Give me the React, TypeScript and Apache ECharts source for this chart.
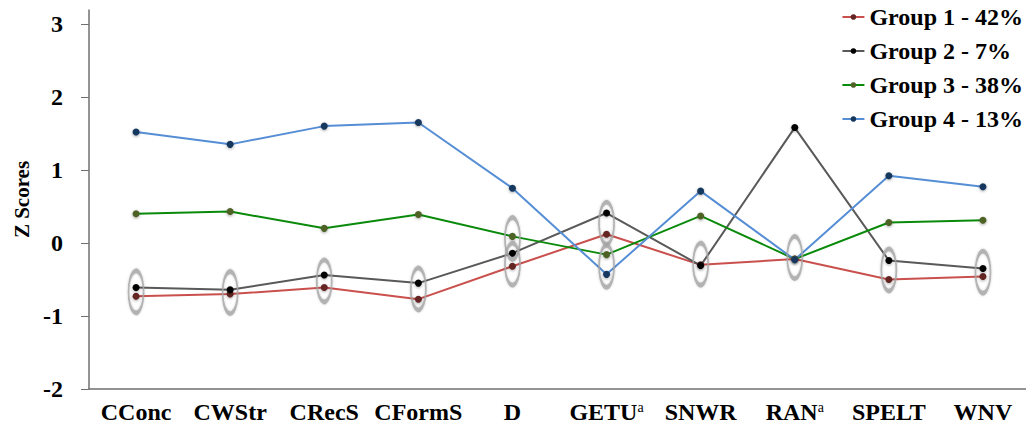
import React, { useEffect, useRef } from "react";
import * as echarts from "echarts";

const categories = ["CConc", "CWStr", "CRecS", "CFormS", "D", "GETU", "SNWR", "RAN", "SPELT", "WNV"];
const superscripted = ["GETU", "RAN"];
const group1 = [-0.73, -0.70, -0.61, -0.77, -0.32, 0.12, -0.30, -0.22, -0.50, -0.46];
const group2 = [-0.61, -0.64, -0.44, -0.55, -0.14, 0.41, -0.31, 1.58, -0.24, -0.35];
const group3 = [0.40, 0.43, 0.20, 0.39, 0.09, -0.16, 0.37, -0.22, 0.28, 0.31];
const group4 = [1.52, 1.35, 1.60, 1.65, 0.75, -0.43, 0.71, -0.23, 0.92, 0.77];
const seriesNames = ["Group 1 - 42%", "Group 2 - 7%", "Group 3 - 38%", "Group 4 - 13%"];
// highlighted points: [category index, center value]
const highlightCats = [0, 1, 2, 3, 4, 4, 5, 5, 6, 7, 8, 9];
const highlightVals = [-0.67, -0.68, -0.52, -0.63, 0.06, -0.29, 0.27, -0.32, -0.29, -0.20, -0.37, -0.40];
const yTicks = [-2, -1, 0, 1, 2, 3];
const yMin = -2;
const yMax = 3.19;

const FONT = "Liberation Serif";

export default function App() {
  const ref = useRef<HTMLDivElement>(null);
  useEffect(() => {
    if (!ref.current) return;
    const chart = echarts.init(ref.current, null, { renderer: "svg" });
    const lineColors = ["#C9504D", "#595959", "#0A8A0A", "#558ED5"];
    const dotColors = ["#632523", "#000000", "#4F6228", "#17375E"];
    const datasets = [group1, group2, group3, group4];
    const lineSeries = datasets.map((d, i) => ({
      type: "line",
      name: seriesNames[i],
      data: d,
      symbol: "circle",
      symbolSize: 7,
      lineStyle: { color: lineColors[i], width: 2 },
      itemStyle: {
        color: dotColors[i],
        shadowBlur: 3,
        shadowColor: "rgba(0,0,0,0.35)",
        shadowOffsetY: 1,
      },
      z: 2,
    }));
    chart.setOption({
      animation: false,
      grid: { left: 89, right: 4, top: 10, bottom: 47 },
      legend: {
        data: seriesNames,
        orient: "vertical",
        right: 6,
        top: 0,
        itemWidth: 22,
        itemHeight: 7,
        itemGap: 10,
        textStyle: { fontFamily: FONT, fontSize: 24, fontWeight: "bold", color: "#000" },
      },
      xAxis: {
        type: "category",
        data: categories,
        boundaryGap: true,
        axisLine: { onZero: false, lineStyle: { color: "#707070", width: 1.5 } },
        axisTick: { show: false },
        axisLabel: {
          interval: 0,
          margin: 11,
          formatter: (v: string) => (superscripted.includes(v) ? `{b|${v}}{sup|a}` : `{b|${v}}`),
          rich: {
            b: {
              fontFamily: FONT,
              fontSize: 24,
              fontWeight: "bold",
              color: "#000",
              lineHeight: 24,
              padding: [18, 0, 0, 0],
              verticalAlign: "bottom",
            },
            sup: {
              fontFamily: FONT,
              fontSize: 14,
              fontWeight: "normal",
              color: "#000",
              lineHeight: 12,
              verticalAlign: "top",
              padding: [0, 0, 0, 0],
            },
          },
        },
      },
      yAxis: {
        type: "value",
        min: yMin,
        max: yMax,
        name: "Z Scores",
        nameLocation: "middle",
        nameGap: 57,
        nameTextStyle: { fontFamily: FONT, fontSize: 21, fontWeight: "bold", color: "#000" },
        axisLine: { show: true, lineStyle: { color: "#707070", width: 1.5 } },
        axisTick: { show: true, length: 8, customValues: yTicks, lineStyle: { color: "#707070" } },
        splitLine: { show: false },
        axisLabel: {
          customValues: yTicks,
          margin: 26,
          fontFamily: FONT,
          fontSize: 24,
          fontWeight: "bold",
          color: "#000",
        },
      },
      series: [
        ...lineSeries,
        {
          type: "scatter",
          name: "highlight",
          data: highlightCats.map((c, i) => [c, highlightVals[i]]),
          symbol: "circle",
          symbolSize: [15, 42],
          silent: true,
          itemStyle: {
            color: "rgba(0,0,0,0)",
            borderColor: "#A6A6A6",
            borderWidth: 3,
            shadowBlur: 2,
            shadowColor: "rgba(0,0,0,0.25)",
          },
          z: 3,
        },
      ],
    });
    return () => chart.dispose();
  }, []);
  return <div ref={ref} style={{ width: 1034, height: 436, margin: -8 }} />;
}
